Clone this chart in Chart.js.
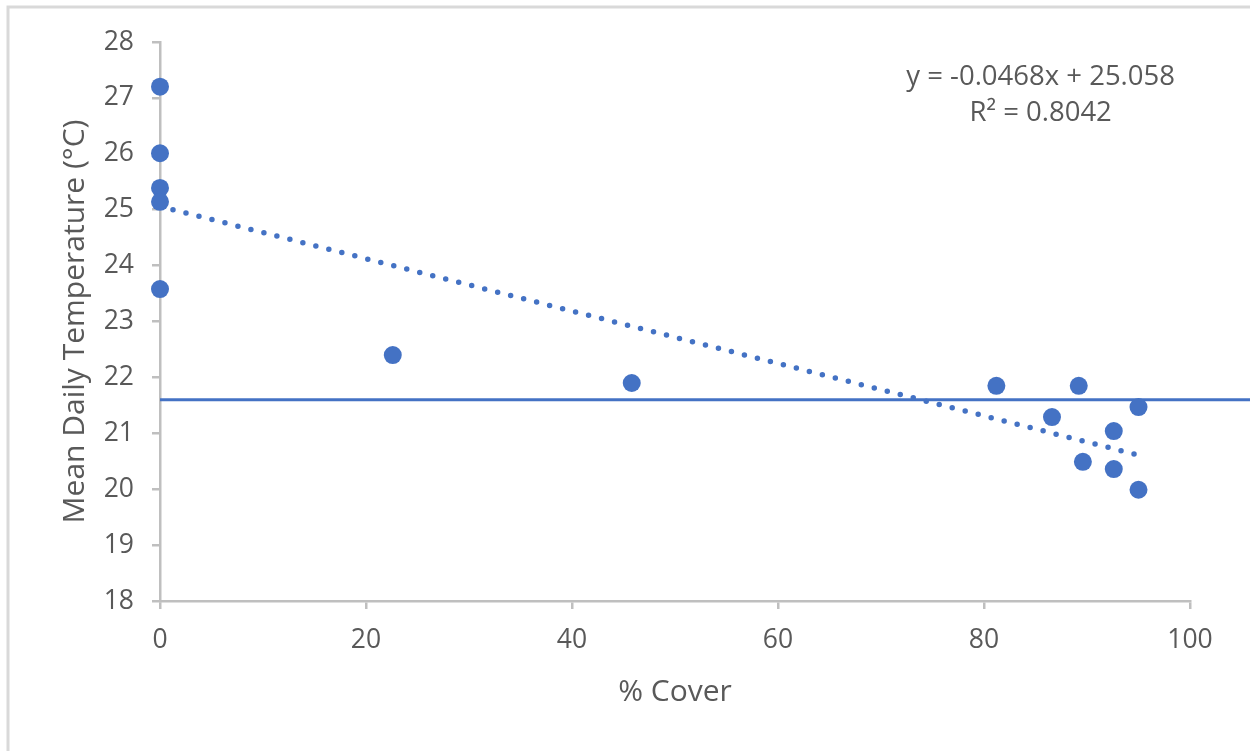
<!DOCTYPE html>
<html>
<head>
<meta charset="utf-8">
<script src="https://cdn.jsdelivr.net/npm/chart.js@4"></script>
<style>
  html, body { margin: 0; padding: 0; background: #ffffff; }
  #wrap { width: 1250px; height: 751px; position: relative; }
</style>
</head>
<body>
<div id="wrap"><canvas id="coverChart" width="1250" height="751"></canvas></div>
<script>
// Values
const coverPct = [0, 0, 0, 0, 0, 22.6, 45.8, 81.2, 86.6, 89.2, 95.0, 92.6, 89.6, 92.6, 95.0];
const meanTemp = [27.2, 26.01, 25.39, 25.14, 23.58, 22.4, 21.9, 21.85, 21.29, 21.85, 21.47, 21.04, 20.49, 20.36, 19.99];
const trendX = [0, 95];
const trendY = [25.06, 20.61];
const refLineX = [0, 106];
const refLineY = [21.6, 21.6];
const xTicks = [0, 20, 40, 60, 80, 100];
const yTicks = [18, 19, 20, 21, 22, 23, 24, 25, 26, 27, 28];
const equationLines = ['y = -0.0468x + 25.058', 'R\u00B2 = 0.8042'];

const blue = '#4472C4';
const textGrey = '#595959';
const axisGrey = '#bfbfbf';
const fontFamily = '"Open Sans", "Liberation Sans", sans-serif';

const toPoints = (xs, ys) => xs.map((x, i) => ({ x: x, y: ys[i] }));

// white page + light frame on left and top
const frameBg = {
    id: 'frameBg',
    beforeDraw(chart) {
        const ctx = chart.ctx;
        ctx.save();
        ctx.fillStyle = '#ffffff';
        ctx.fillRect(0, 0, chart.width, chart.height);
        ctx.strokeStyle = '#d9d9d9';
        ctx.lineWidth = 3;
        ctx.beginPath();
        ctx.moveTo(8, chart.height);
        ctx.lineTo(8, 7);
        ctx.lineTo(chart.width, 7);
        ctx.stroke();
        ctx.restore();
    }
};

// trendline equation label
const equationLabel = {
    id: 'equationLabel',
    afterDatasetsDraw(chart) {
        const { ctx, scales } = chart;
        const cx = scales.x.getPixelForValue(85.5);
        ctx.save();
        ctx.fillStyle = textGrey;
        ctx.font = '27.5px ' + fontFamily;
        ctx.textAlign = 'center';
        ctx.textBaseline = 'middle';
        ctx.fillText(equationLines[0], cx, scales.y.getPixelForValue(27.37));
        ctx.fillText(equationLines[1], cx, scales.y.getPixelForValue(26.73));
        ctx.restore();
    }
};

const ctx = document.getElementById('coverChart');
new Chart(ctx, {
    type: 'scatter',
    data: {
        datasets: [
            {
                label: 'Mean Daily Temperature',
                data: toPoints(coverPct, meanTemp),
                backgroundColor: blue,
                borderColor: blue,
                pointRadius: 9,
                pointBorderWidth: 0,
                clip: false,
                order: 1
            },
            {
                type: 'line',
                label: 'Trend',
                data: toPoints(trendX, trendY),
                borderColor: blue,
                borderWidth: 5.5,
                borderDash: [0, 13.4],
                borderCapStyle: 'round',
                pointRadius: 0,
                fill: false,
                clip: false,
                order: 2
            },
            {
                type: 'line',
                label: 'Reference',
                data: toPoints(refLineX, refLineY),
                borderColor: blue,
                borderWidth: 3,
                pointRadius: 0,
                fill: false,
                clip: false,
                order: 3
            }
        ]
    },
    options: {
        responsive: false,
        animation: false,
        events: [],
        layout: { padding: { left: 0, right: 60, top: 42, bottom: 0 } },
        plugins: {
            legend: { display: false },
            tooltip: { enabled: false }
        },
        scales: {
            x: {
                type: 'linear',
                min: 0,
                max: 100,
                afterBuildTicks: (scale) => { scale.ticks = xTicks.map(v => ({ value: v })); },
                afterFit: (scale) => { scale.height = 150; },
                border: { display: true, color: axisGrey, width: 2.5 },
                grid: { display: true, drawOnChartArea: false, drawTicks: true, tickLength: 8, color: axisGrey, lineWidth: 2.5 },
                ticks: { color: textGrey, padding: 16, maxRotation: 0, font: { family: fontFamily, size: 26.5 } },
                title: {
                    display: true,
                    text: '% Cover',
                    color: textGrey,
                    font: { family: fontFamily, size: 30 },
                    padding: { top: 0, bottom: 41 }
                }
            },
            y: {
                type: 'linear',
                min: 18,
                max: 28,
                afterBuildTicks: (scale) => { scale.ticks = yTicks.map(v => ({ value: v })); },
                afterFit: (scale) => { scale.width = 160; },
                border: { display: true, color: axisGrey, width: 2.5 },
                grid: { display: true, drawOnChartArea: false, drawTicks: true, tickLength: 8, color: axisGrey, lineWidth: 2.5 },
                ticks: { color: textGrey, padding: 18, font: { family: fontFamily, size: 26.5 } },
                title: {
                    display: true,
                    text: 'Mean Daily Temperature (\u00B0C)',
                    color: textGrey,
                    font: { family: fontFamily, size: 30 },
                    padding: { top: 57, bottom: 0 }
                }
            }
        }
    },
    plugins: [frameBg, equationLabel]
});
</script>
</body>
</html>
